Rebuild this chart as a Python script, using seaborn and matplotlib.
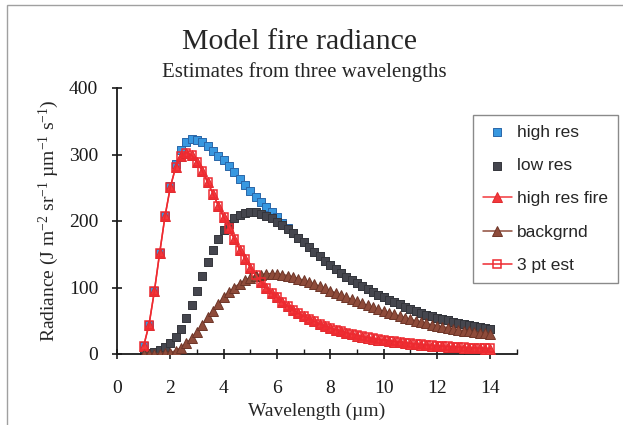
import matplotlib
matplotlib.use("Agg")
import matplotlib.pyplot as plt
from matplotlib.patches import Rectangle
from matplotlib.ticker import MultipleLocator
import pandas as pd
import seaborn as sns

sns.set_style("white")
plt.rcParams['font.family'] = ['Liberation Serif', 'DejaVu Serif']
plt.rcParams['mathtext.fontset'] = 'custom'
plt.rcParams['mathtext.rm'] = 'Liberation Serif'
plt.rcParams['mathtext.it'] = 'Liberation Serif:italic'

# wavelength grid (um)
wavelength = [1.0, 1.2, 1.4, 1.6, 1.8, 2.0, 2.2, 2.4, 2.6, 2.8,
              3.0, 3.2, 3.4, 3.6, 3.8, 4.0, 4.2, 4.4, 4.6, 4.8,
              5.0, 5.2, 5.4, 5.6, 5.8, 6.0, 6.2, 6.4, 6.6, 6.8,
              7.0, 7.2, 7.4, 7.6, 7.8, 8.0, 8.2, 8.4, 8.6, 8.8,
              9.0, 9.2, 9.4, 9.6, 9.8, 10.0, 10.2, 10.4, 10.6, 10.8,
              11.0, 11.2, 11.4, 11.6, 11.8, 12.0, 12.2, 12.4, 12.6, 12.8,
              13.0, 13.2, 13.4, 13.6, 13.8, 14.0]

high_res = [12, 44, 94, 152, 208, 253, 286, 307.5, 319, 323,
            322, 319, 313, 306, 298, 291, 282, 273, 263, 254,
            245, 236.5, 228.5, 220.5, 213, 205.5, 197.5, 190, 182, 174.5,
            168, 161, 154, 147, 140.5, 134, 128, 122.5, 116.5, 111.5,
            106.5, 102, 97.5, 93, 88.5, 85, 81.5, 78, 74.5, 71,
            67.5, 64.8, 62, 59.3, 56.7, 54.6, 52.5, 50.5, 48.5, 46.5,
            44.6, 43.2, 41.8, 40.4, 39.1, 37.8]

low_res = [1, 2, 3.5, 6, 10, 16, 25, 38, 54, 74,
           95, 117, 138, 157, 173, 186, 196, 204, 209, 212,
           213, 213, 211, 208, 204, 199, 194, 188, 181.5, 174.5,
           168, 161, 154, 147, 140.5, 134, 128, 122.5, 116.5, 111.5,
           106.5, 102, 97.5, 93, 88.5, 85, 81.5, 78, 74.5, 71,
           67.5, 64.8, 62, 59.3, 56.7, 54.6, 52.5, 50.5, 48.5, 46.5,
           44.6, 43.2, 41.8, 40.4, 39.1, 37.8]

fire = [12, 44, 94, 152, 207, 251, 281, 298, 303, 299,
        289, 275, 258, 241, 223, 206, 189, 173, 157, 143,
        130, 119, 109, 100, 92, 85, 78, 72, 66, 61,
        57, 53, 49, 45, 42, 39, 36, 34, 31.5, 29.5,
        27.5, 26, 24.5, 23, 21.5, 20.5, 19.5, 18.5, 17.5, 16.5,
        15.5, 14.8, 14, 13.3, 12.7, 12.1, 11.5, 11, 10.5, 10,
        9.6, 9.2, 8.8, 8.4, 8.1, 7.8]

backgrnd = [0, 0, 0, 0.2, 0.8, 2.2, 5, 9.5, 16, 24,
            33, 44, 55, 65, 75, 85, 93, 100, 106, 111,
            115, 117.5, 119.5, 120.5, 121, 120.5, 119.5, 118, 116, 113.5,
            111, 108, 105, 102, 98.5, 95, 92, 88.5, 85, 82,
            79, 76, 73, 70, 67, 64.5, 62, 59.5, 57, 54.5,
            52, 50, 48, 46, 44, 42.5, 41, 39.5, 38, 36.5,
            35, 34, 33, 32, 31, 30]

est_3pt = [12, 44, 94, 152, 207, 251, 281, 298, 303, 299,
           289, 275, 258, 241, 223, 206, 189, 173, 157, 143,
           130, 119, 109, 100, 92, 85, 78, 72, 66, 61,
           57, 53, 49, 45, 42, 39, 36.5, 34.5, 32, 30,
           28, 26.5, 25, 23.5, 22, 21, 20, 19, 18, 17,
           16, 15.3, 14.5, 13.8, 13.2, 12.6, 12, 11.5, 11, 10.5,
           10.1, 9.7, 9.3, 8.9, 8.6, 8.3]

df = pd.DataFrame({'wl': wavelength, 'high_res': high_res, 'low_res': low_res,
                   'fire': fire, 'backgrnd': backgrnd, 'est': est_3pt})

fig = plt.figure(figsize=(6.23, 4.25), dpi=100)
ax = fig.add_axes([117/623, 1 - 354/425, 400/623, 266/425])

sns.scatterplot(data=df, x='wl', y='high_res', marker='s', s=38, color='#3898e0',
                edgecolor='#2a66a8', linewidth=0.7, label='high res', ax=ax, zorder=2)
sns.scatterplot(data=df, x='wl', y='low_res', marker='s', s=38, color='#45464e',
                edgecolor='#34353b', linewidth=0.7, label='low res', ax=ax, zorder=2)
sns.lineplot(data=df, x='wl', y='fire', color='#f2383c', lw=1.1, marker='^', markersize=6.5,
             markeredgecolor='#e02a2e', markeredgewidth=0.7, label='high res fire',
             errorbar=None, ax=ax, zorder=3)
sns.lineplot(data=df, x='wl', y='backgrnd', color='#8e4b3a', lw=1.1, marker='^', markersize=6.5,
             markeredgecolor='#6e3528', markeredgewidth=0.7, label='backgrnd',
             errorbar=None, ax=ax, zorder=3)
sns.lineplot(data=df, x='wl', y='est', color='#ee2a30', lw=1.1, marker='s', markersize=5.8,
             markerfacecolor='none', markeredgecolor='#ee2a30', markeredgewidth=1.1,
             label='3 pt est', errorbar=None, ax=ax, zorder=4)

ax.set_xlim(0, 15)
ax.set_ylim(0, 400)
ax.xaxis.set_major_locator(MultipleLocator(2))
ax.xaxis.set_minor_locator(MultipleLocator(1))
ax.yaxis.set_major_locator(MultipleLocator(100))
ax.tick_params(axis='x', which='major', direction='inout', length=7, width=1.2,
               pad=15, labelsize=14, colors='#1a1a1a')
ax.tick_params(axis='x', which='minor', direction='in', length=3.5, width=1.0, color='#1a1a1a')
ax.tick_params(axis='y', which='major', direction='inout', length=7, width=1.2,
               pad=10, labelsize=14, colors='#1a1a1a')
ax.xaxis.set_ticks_position('bottom')
ax.yaxis.set_ticks_position('left')

for side in ['top', 'right']:
    ax.spines[side].set_visible(False)
for side in ['left', 'bottom']:
    ax.spines[side].set_color('#1a1a1a')
    ax.spines[side].set_linewidth(1.3)

ax.set_xlabel('Wavelength (µm)', fontsize=14)
ax.xaxis.set_label_coords(0.5, -0.184)
ax.set_ylabel('Radiance (J m$^{-2}$ sr$^{-1}$ µm$^{-1}$ s$^{-1}$)', fontsize=14)
ax.yaxis.set_label_coords(-0.14, 0.5)

fig.text(300/623, 1 - 42/425, 'Model fire radiance', ha='center', va='center', fontsize=21.5)
fig.text(304/623, 1 - 72/425, 'Estimates from three wavelengths', ha='center', va='center',
         fontsize=15)

leg = ax.legend(loc='upper left', bbox_to_anchor=(473/623, 1 - 115/425),
                bbox_transform=fig.transFigure, borderaxespad=0, frameon=True,
                fancybox=False, edgecolor='#8a8a8a', framealpha=1,
                prop={'family': 'Liberation Sans', 'size': 12.5},
                handlelength=1.7, handletextpad=0.3, labelspacing=1.05, borderpad=0.55)
leg.get_frame().set_linewidth(1.0)

fig.patches.append(Rectangle((7/623, -0.1), 1.2, 1.1 - 5/425, transform=fig.transFigure,
                             fill=False, edgecolor='#a0a0a0', lw=1.0))

fig.savefig('out.png', dpi=100)
